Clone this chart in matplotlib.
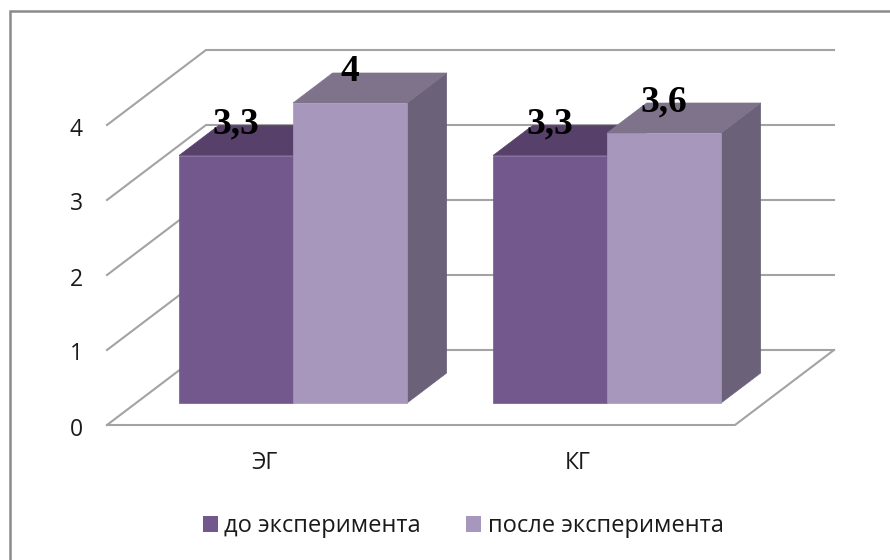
import matplotlib
matplotlib.use("Agg")
import matplotlib.pyplot as plt
from matplotlib.lines import Line2D
from matplotlib.patches import Polygon, Rectangle
from matplotlib.transforms import ScaledTranslation

categories = ["ЭГ", "КГ"]
series_names = ["до эксперимента", "после эксперимента"]
before = [3.3, 3.3]
after = [4, 3.6]
value_ticks = [0, 1, 2, 3, 4]

W, H = 890, 560

# face colours: front, top, side
dark = ("#72588C", "#57406A", "#5A4A6C")
light = ("#A897BC", "#7F738C", "#6B6279")
grid_color = "#A3A3A3"
frame_color = "#8A8A8A"

# depth of the floor in category units and value units
DX = 99 / 314
DY = 1.0
BAR_W = 114 / 314
D0, D1 = 22 / 75, 52 / 75  # bar front and back depth


def project(x, v, d):
    return x + d * DX, v + d * DY


def draw_bar(ax, x0, value, colors, z):
    x1 = x0 + BAR_W
    front = [project(x0, 0, D0), project(x1, 0, D0), project(x1, value, D0), project(x0, value, D0)]
    top = [project(x0, value, D0), project(x1, value, D0), project(x1, value, D1), project(x0, value, D1)]
    side = [project(x1, 0, D0), project(x1, 0, D1), project(x1, value, D1), project(x1, value, D0)]
    for pts, col in zip((side, top, front), (colors[2], colors[1], colors[0])):
        ax.add_patch(Polygon(pts, closed=True, facecolor=col, edgecolor=col, linewidth=0.5,
                             zorder=z, clip_on=False))


def value_text(v):
    return f"{v:g}".replace(".", ",")


fig = plt.figure(figsize=(W / 100, H / 100), dpi=100)
fig.patch.set_facecolor("white")

# only the top and left edges of the outer frame are drawn
fig.add_artist(Line2D([10 / W, 10 / W, 1], [0, 1 - 11 / H, 1 - 11 / H], transform=fig.transFigure,
                      color=frame_color, lw=1.8, solid_joinstyle="miter", zorder=-1))

ax = fig.add_axes([107 / W, 1 - 425 / H, 628 / W, 300 / H])
ax.patch.set_alpha(0)
ax.set_xlim(-0.5, 1.5)
ax.set_ylim(0, 4)
for s in ax.spines.values():
    s.set_visible(False)

# gridlines run along the left wall and the back wall
for v in value_ticks:
    xs = [-0.5, project(-0.5, v, 1)[0], project(1.5, v, 1)[0]]
    ys = [v, v + DY, v + DY]
    ax.plot(xs, ys, color=grid_color, lw=1.5, zorder=1, clip_on=False, solid_joinstyle="miter")
ax.plot([-0.5, 1.5, project(1.5, 0, 1)[0]], [0, 0, DY], color=grid_color, lw=1.5, zorder=1,
        clip_on=False, solid_joinstyle="miter")

for i in range(len(categories)):
    left = i - BAR_W
    draw_bar(ax, left, before[i], dark, 2)
    draw_bar(ax, i, after[i], light, 3)
    for x0, val in ((left, before[i]), (i, after[i])):
        px, py = project(x0 + BAR_W / 2, val, D0)
        ax.annotate(value_text(val), (px, py), xytext=(0, 15.8), textcoords="offset points",
                    ha="center", va="baseline", family="Liberation Serif", fontweight="bold",
                    fontsize=27, color="black", zorder=5, annotation_clip=False)

ax.set_yticks(value_ticks)
ax.set_xticks(range(len(categories)), categories)
ax.tick_params(axis="both", length=0, labelsize=16.5, labelcolor="#1A1A1A")
ax.tick_params(axis="y", pad=17.5)
ax.tick_params(axis="x", pad=19)
for t in ax.get_xticklabels() + ax.get_yticklabels():
    t.set_family("Open Sans")

# value labels sit a little below their gridline ends
shift = ScaledTranslation(0, -1.5 / 100, fig.dpi_scale_trans)
for t in ax.get_yticklabels():
    t.set_transform(t.get_transform() + shift)

handles = [Rectangle((0, 0), 1, 1, facecolor=dark[0]), Rectangle((0, 0), 1, 1, facecolor=light[0])]
fig.legend(handles, series_names, loc="center", bbox_to_anchor=(463 / W, 1 - 526.5 / H), ncol=2,
           frameon=False, handlelength=0.64, handleheight=0.64, handletextpad=0.28, columnspacing=1.9,
           prop={"family": "Open Sans", "size": 17}, labelcolor="#1A1A1A")

fig.savefig("out.png", dpi=100)
